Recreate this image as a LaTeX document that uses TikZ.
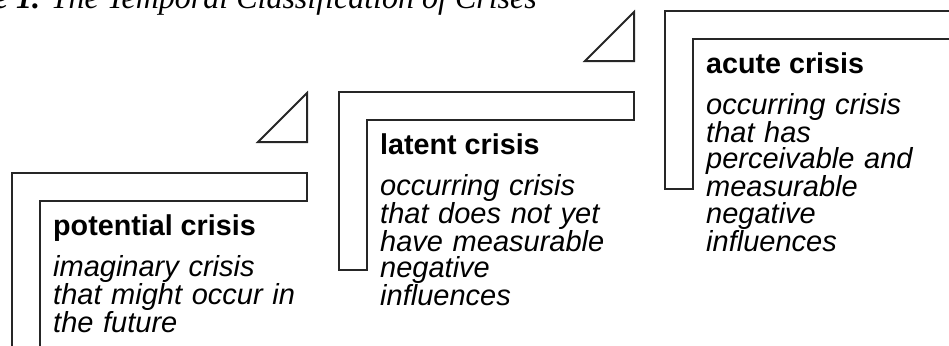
\documentclass[tikz,border=0pt]{standalone}
\usepackage{fontspec}
\setmainfont{Liberation Serif}
\setsansfont{Liberation Sans}
\usetikzlibrary{positioning}

\begin{document}
\begin{tikzpicture}[x=1pt, y=-1pt,
    frame/.style={draw=black!85, line width=2pt},
    wedge/.style={draw=black!85, line width=2pt},
    head/.style={anchor=base west, inner sep=0pt, font=\sffamily\bfseries\fontsize{28.7}{30}\selectfont},
    desc/.style={anchor=base west, inner sep=0pt, text width=300pt, align=left, font=\sffamily\itshape\fontsize{29}{26.7}\selectfont},
    caption/.style={anchor=base east, inner sep=0pt, font=\itshape\fontsize{32}{36}\selectfont}
]
    \useasboundingbox (0,0) rectangle (949,345);

    % Caption, cut off by the top edge
    \node[caption] (caption) at (537,9) {\textbf{e 1.} The Temporal Classification of Crises};

    % Potential crisis
    \begin{scope}[shift={(12,173)}]
        \draw[frame] (0,178) -- (0,0) -- (295,0) -- (295,28) -- (28,28) -- (28,178) -- cycle;
        \draw[wedge] (246,-31) -- (295,-31) -- (295,-80) -- cycle;
        \node[head] (potentialhead) at (41,62) {potential crisis};
        \node[desc] (potentialdesc) at ([yshift=-41pt]potentialhead.base west) {imaginary crisis\\ that might occur in\\ the future};
    \end{scope}

    % Latent crisis
    \begin{scope}[shift={(339,92)}]
        \draw[frame] (0,178) -- (0,0) -- (295,0) -- (295,28) -- (28,28) -- (28,178) -- cycle;
        \draw[wedge] (246,-31) -- (295,-31) -- (295,-80) -- cycle;
        \node[head] (latenthead) at (41,62) {latent crisis};
        \node[desc] (latentdesc) at ([yshift=-41pt]latenthead.base west) {occurring crisis\\ that does not yet\\ have measurable\\ negative\\ influences};
    \end{scope}

    % Acute crisis
    \begin{scope}[shift={(665,11)}]
        \draw[frame] (0,178) -- (0,0) -- (295,0) -- (295,28) -- (28,28) -- (28,178) -- cycle;
        \node[head] (acutehead) at (41,62) {acute crisis};
        \node[desc] (acutedesc) at ([yshift=-41pt]acutehead.base west) {occurring crisis\\ that has\\ perceivable and\\ measurable\\ negative\\ influences};
    \end{scope}

\end{tikzpicture}
\end{document}
